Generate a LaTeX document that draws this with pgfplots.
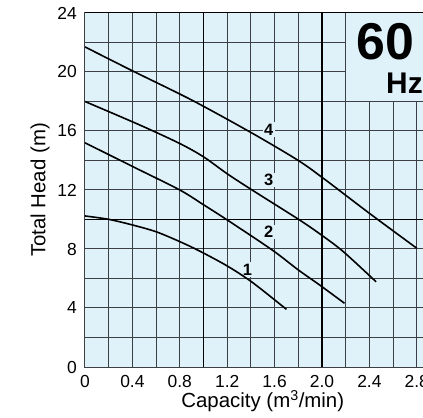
\documentclass[border=0pt]{standalone}
\usepackage{pgfplots}
\pgfplotsset{compat=1.18}
\usepackage{fontspec}
\setmainfont{Liberation Sans}

\definecolor{chartbg}{RGB}{223,242,250}
\definecolor{gridc}{RGB}{60,64,68}

\begin{document}
\begin{tikzpicture}
\begin{axis}[
    name=ax,
    scale only axis,
    width=355.5bp, height=354bp,
    xmin=0, xmax=3.0, ymin=0, ymax=24,
    xtick={0,0.4,...,2.8},
    xticklabels={0,0.4,0.8,1.2,1.6,2.0,2.4,2.8},
    ytick={0,4,...,24},
    minor x tick num=1,
    minor y tick num=1,
    grid=both,
    major grid style={gridc, line width=1bp},
    minor grid style={gridc, line width=1bp},
    major tick length=0pt, minor tick length=0pt,
    axis line style={gridc, line width=1bp},
    axis background/.style={fill=chartbg},
    /pgf/number format/assume math mode=true,
    tick label style={font=\fontsize{17.5}{19}\selectfont, inner sep=0pt},
    xticklabel style={yshift=-8bp},
    yticklabel style={xshift=-8bp},
    xlabel={Capacity (m\textsuperscript{3}/min)},
    ylabel={Total Head (m)},
    label style={font=\fontsize{20.5}{23}\selectfont},
    xlabel style={at={(axis description cs:0.5,-0.096)}, anchor=center},
    ylabel style={at={(axis description cs:-0.1266,0.5)}, anchor=center},
  ]
  % heavier guide lines
  \draw[black, line width=1.3bp] (axis cs:1,0) -- (axis cs:1,24);
  \draw[black, line width=1.2bp] (axis cs:2,0) -- (axis cs:2,24);
  \draw[black, line width=1.3bp] (axis cs:0,10) -- (axis cs:3,10);

  % 60 Hz box
  \fill[chartbg] (axis cs:2.2,18) rectangle (axis cs:3,24);
  \draw[gridc, line width=1bp] (axis cs:2.2,24) -- (axis cs:2.2,18) -- (axis cs:3,18);
  \draw[black, line width=1bp] (axis cs:0,24) -- (axis cs:3,24);
  \node[anchor=west, inner sep=0pt, font=\bfseries\fontsize{52}{53}\selectfont] at (axis cs:2.29,22.05) {60};
  \node[anchor=west, inner sep=0pt, font=\bfseries\fontsize{30}{32}\selectfont] at (axis cs:2.54,19.25) {Hz};

  % curve labels
  \node[fill=chartbg, inner sep=1.5bp, font=\bfseries\fontsize{16.5}{18}\selectfont] at (axis cs:1.55,16.1) {4};
  \node[fill=chartbg, inner sep=1.5bp, font=\bfseries\fontsize{16.5}{18}\selectfont] at (axis cs:1.55,12.68) {3};
  \node[fill=chartbg, inner sep=1.5bp, font=\bfseries\fontsize{16.5}{18}\selectfont] at (axis cs:1.55,9.17) {2};
  \node[fill=chartbg, inner sep=1.5bp, font=\bfseries\fontsize{16.5}{18}\selectfont] at (axis cs:1.37,6.62) {1};

  % curve 4
  \addplot[black, line width=1.6bp, smooth] coordinates {
    (0,21.7) (0.4,20.08) (0.9,18.1) (1.4,15.9) (1.8,14.0)
    (2.03,12.68) (2.4,10.42) (2.8,8.05)
  };
  % curve 3
  \addplot[black, line width=1.6bp, smooth] coordinates {
    (0,18.0) (0.464,16.4) (0.8,15.15) (1.0,14.25) (1.2,13.1)
    (1.41,12.0) (1.81,9.97) (2.0,8.92) (2.18,7.82) (2.456,5.78)
  };
  % curve 2
  \addplot[black, line width=1.6bp, smooth] coordinates {
    (0,15.2) (0.4,13.6) (0.8,12.0) (1.0,11.0) (1.2,9.97)
    (1.58,7.93) (1.8,6.58) (1.98,5.56) (2.19,4.32)
  };
  % curve 1
  \addplot[black, line width=1.6bp, smooth] coordinates {
    (0,10.24) (0.2,10.01) (0.4,9.63) (0.6,9.17) (0.8,8.5)
    (0.97,7.85) (1.2,6.85) (1.41,5.75) (1.70,3.91)
  };
  \coordinate (bl) at (rel axis cs:0,0);
  \coordinate (tl) at (rel axis cs:0,1);
\end{axis}
\pgfresetboundingbox
\path[use as bounding box] ([xshift=-85bp,yshift=-51bp]bl) rectangle ([xshift=338bp,yshift=13bp]tl);
\end{tikzpicture}
\end{document}
